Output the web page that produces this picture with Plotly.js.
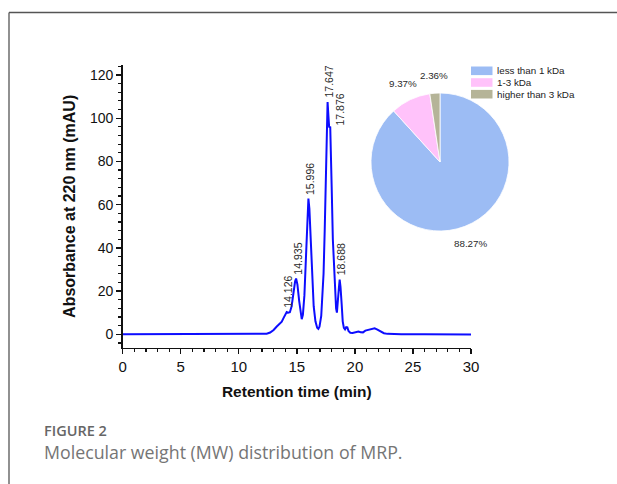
<!DOCTYPE html>
<html>
<head>
<meta charset="utf-8">
<script src="https://cdn.plot.ly/plotly-3.0.1.min.js"></script>
<style>
html,body{margin:0;padding:0;background:#fff;}
#chart{width:617px;height:484px;}
</style>
</head>
<body>
<div id="chart"></div>
<script>
// ---- chromatogram data ----
var retentionTime = [0, 2, 4, 5.5, 7, 9, 11, 12, 12.4, 12.7, 13.0, 13.25, 13.5, 13.7, 13.85, 14.0, 14.126, 14.25, 14.4, 14.55, 14.7, 14.85, 14.935, 15.05, 15.2, 15.33, 15.42, 15.52, 15.65, 15.78, 15.9, 15.996, 16.08, 16.2, 16.32, 16.45, 16.6, 16.75, 16.85, 16.95, 17.1, 17.2, 17.3, 17.4, 17.5, 17.58, 17.647, 17.72, 17.78, 17.876, 17.94, 18.0, 18.1, 18.2, 18.3, 18.38, 18.45, 18.55, 18.63, 18.688, 18.76, 18.86, 18.95, 19.05, 19.15, 19.25, 19.35, 19.45, 19.6, 19.8, 20.0, 20.3, 20.5, 20.7, 20.9, 21.1, 21.4, 21.7, 21.9, 22.1, 22.3, 22.5, 22.8, 23.2, 24, 26, 28, 30];
var absorbance = [0, 0, 0.1, 0.2, 0.1, 0, 0, 0.1, 0.3, 0.8, 2.0, 3.5, 4.6, 5.8, 7.5, 9.2, 10.3, 10.0, 10.2, 13, 19, 24.5, 25.8, 23, 15.5, 9, 7, 9, 18, 35, 55, 62.8, 58, 42, 25, 13, 6, 3, 2.5, 3.5, 8.5, 16, 28, 48, 74, 96, 107.5, 101, 96, 95.8, 85, 68, 44, 30, 20, 12, 10, 15, 22, 25.3, 22, 14, 6, 3, 2.3, 3.3, 3.2, 1.5, 0.7, 0.6, 0.8, 1.3, 1.0, 0.9, 1.7, 2.0, 2.2, 2.8, 2.3, 1.6, 1.3, 0.5, 0.2, 0.1, 0, 0, -0.1, -0.1];

// ---- labelled peaks ----
var peakTimes = [14.126, 14.935, 15.996, 17.647, 17.876, 18.688];
var peakHeights = [10.3, 25.8, 62.8, 107.5, 95.8, 25.3];

// ---- MW distribution (pie) ----
var mwClasses = ['less than 1 kDa', '1-3 kDa', 'higher than 3 kDa'];
var mwPercent = [88.27, 9.37, 2.36];
var mwColors = ['#9cbcf4', '#ffc2fa', '#b5b498'];

// ---- axis ticks ----
var xTickVals = [0, 5, 10, 15, 20, 25, 30];
var yTickVals = [0, 20, 40, 60, 80, 100, 120];

var W = 617, H = 484;
function px(x){ return x / W; }
function py(y){ return (H - y) / H; }

var FONT = 'Liberation Sans, Arial, Helvetica, sans-serif';

var traces = [
  {
    type: 'scatter', mode: 'lines',
    x: retentionTime, y: absorbance,
    line: {color: '#0d0dff', width: 2},
    xaxis: 'x', yaxis: 'y',
    hoverinfo: 'x+y', showlegend: false
  },
  {
    type: 'pie',
    labels: mwClasses, values: mwPercent,
    marker: {colors: mwColors, line: {color: '#ffffff', width: 0.8}},
    sort: false, direction: 'clockwise', rotation: 0,
    textinfo: 'none', hoverinfo: 'label+percent',
    showlegend: false,
    domain: {x: [px(371), px(509)], y: [py(231), py(93)]}
  }
];

var annotations = [];
var shapes = [];

// peak labels (rotated)
for (var i = 0; i < peakTimes.length; i++) {
  var close = i > 0 && (peakTimes[i] - peakTimes[i - 1]) < 0.3;
  annotations.push({
    xref: 'x', yref: 'y', x: peakTimes[i], y: peakHeights[i],
    text: peakTimes[i].toFixed(3), textangle: -90,
    showarrow: false, xanchor: 'center', yanchor: 'bottom',
    xshift: close ? 10 : 1, yshift: close ? 0 : 2,
    font: {family: FONT, size: 10.5, color: '#2a2a2a'}
  });
}

// pie percentage labels (placed along each slice bisector)
var total = mwPercent.reduce(function(a, b){ return a + b; }, 0);
var cx = 440, cy = 162, R = 87, cum = 0;
for (var j = 0; j < mwPercent.length; j++) {
  var mid = (cum + mwPercent[j] / 2) / total;
  cum += mwPercent[j];
  var th = 2 * Math.PI * mid;
  annotations.push({
    xref: 'paper', yref: 'paper',
    x: px(cx + R * Math.sin(th)), y: py(cy - R * Math.cos(th)),
    text: mwPercent[j].toFixed(2) + '%', showarrow: false,
    xanchor: 'center', yanchor: 'middle',
    font: {family: FONT, size: 9.8, color: '#2a2a2a'}
  });
}

// legend for the pie
for (var k = 0; k < mwClasses.length; k++) {
  var rowTop = 66.5 + k * 11.7;
  shapes.push({
    type: 'rect', xref: 'paper', yref: 'paper',
    x0: px(471), x1: px(492.5), y0: py(rowTop + 8.6), y1: py(rowTop),
    fillcolor: mwColors[k], line: {width: 0}
  });
  annotations.push({
    xref: 'paper', yref: 'paper', x: px(495), y: py(rowTop + 4.4),
    text: mwClasses[k], showarrow: false, xanchor: 'left', yanchor: 'middle',
    font: {family: FONT, size: 9.8, color: '#222'}
  });
}

// figure frame and caption
shapes.push({type: 'line', xref: 'paper', yref: 'paper', x0: px(9), x1: 1, y0: py(12.5), y1: py(12.5), line: {color: '#555', width: 1.3}});
shapes.push({type: 'line', xref: 'paper', yref: 'paper', x0: px(9), x1: px(9), y0: py(12.5), y1: 0, line: {color: '#555', width: 1.3}});

annotations.push({
  xref: 'paper', yref: 'paper', x: px(42), y: py(430), xanchor: 'left', yanchor: 'middle',
  text: 'FIGURE 2', showarrow: false,
  font: {family: 'Open Sans, sans-serif', size: 14.5, color: '#666', weight: 600}
});
annotations.push({
  xref: 'paper', yref: 'paper', x: px(42), y: py(452), xanchor: 'left', yanchor: 'middle',
  text: 'Molecular weight (MW) distribution of MRP.', showarrow: false,
  font: {family: 'Open Sans, sans-serif', size: 17.8, color: '#757575'}
});

var layout = {
  width: W, height: H,
  margin: {l: 0, r: 0, t: 0, b: 0, autoexpand: false},
  paper_bgcolor: '#fff', plot_bgcolor: '#fff',
  showlegend: false,
  xaxis: {
    domain: [px(122.7), px(471)], range: [0, 30],
    tickvals: xTickVals, ticks: 'outside', ticklen: 5, tickwidth: 1.3, tickcolor: '#111',
    minor: {dtick: 1, tick0: 0, ticks: 'outside', ticklen: 3, tickwidth: 1.2, tickcolor: '#111'},
    showline: true, linecolor: '#111', linewidth: 1.6,
    showgrid: false, zeroline: false, fixedrange: true,
    tickfont: {family: FONT, size: 15, color: '#111'},
    title: {text: '<b>Retention time (min)</b>', font: {family: FONT, size: 15.5, color: '#111'}, standoff: 12}
  },
  yaxis: {
    domain: [py(347.7), py(65)], range: [-6.2, 124.6],
    tickvals: yTickVals, ticks: 'outside', ticklen: 5, tickwidth: 1.3, tickcolor: '#111',
    minor: {dtick: 4, tick0: 0, ticks: 'outside', ticklen: 3, tickwidth: 1.2, tickcolor: '#111'},
    showline: true, linecolor: '#111', linewidth: 1.6,
    showgrid: false, zeroline: false, fixedrange: true,
    tickfont: {family: FONT, size: 14, color: '#111'},
    title: {text: '<b>Absorbance at 220 nm (mAU)</b>', font: {family: FONT, size: 16, color: '#111'}, standoff: 10}
  },
  annotations: annotations,
  shapes: shapes
};

Plotly.newPlot('chart', traces, layout, {displayModeBar: false, staticPlot: true});
</script>
</body>
</html>
